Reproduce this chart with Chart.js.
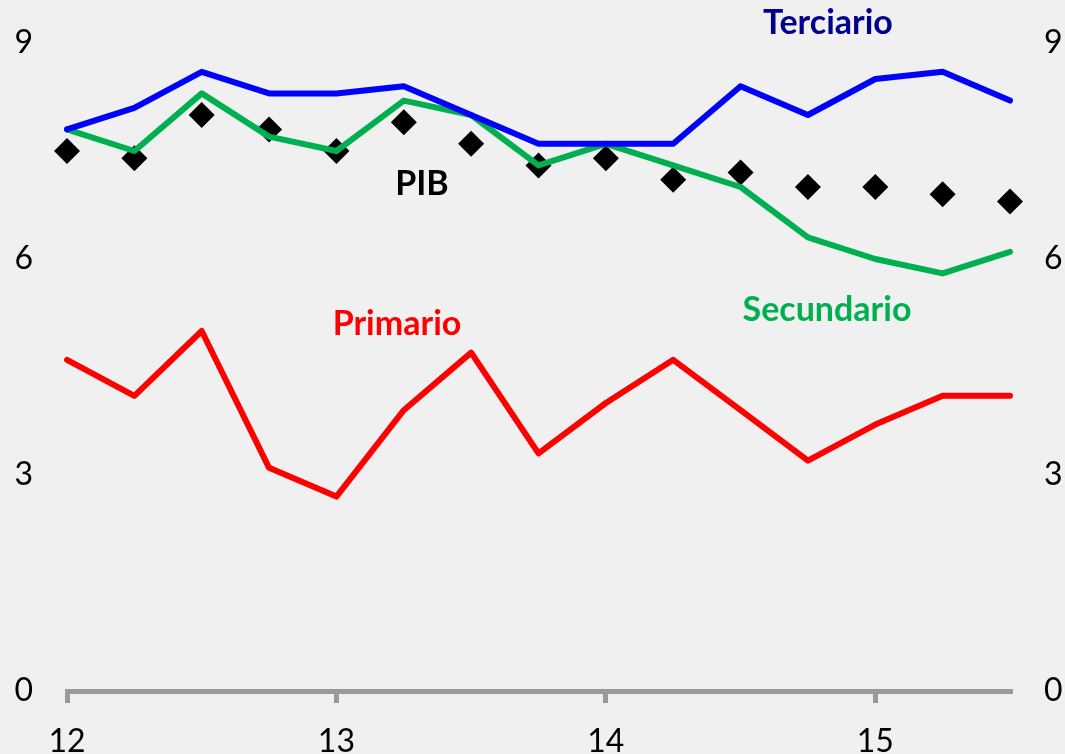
<!DOCTYPE html>
<html lang="es">
<head>
  <meta charset="UTF-8">
  <title>PIB por sectores</title>
  <script src="https://cdn.jsdelivr.net/npm/chart.js"></script>
  <style>
    html, body { margin: 0; padding: 0; background: #f0f0f0; overflow: hidden; }
    canvas { display: block; }
  </style>
</head>
<body>
  <canvas id="grafico" width="1065" height="754"></canvas>

  <script>
    // Datos (trimestres de 2012 a 2015.5)
    const trimestres = ['12', '', '', '', '13', '', '', '', '14', '', '', '', '15', '', ''];
    const terciario  = [7.8, 8.1, 8.6, 8.3, 8.3, 8.4, 8.0, 7.6, 7.6, 7.6, 8.4, 8.0, 8.5, 8.6, 8.2];
    const secundario = [7.8, 7.5, 8.3, 7.7, 7.5, 8.2, 8.0, 7.3, 7.6, 7.3, 7.0, 6.3, 6.0, 5.8, 6.1];
    const pib        = [7.5, 7.4, 8.0, 7.8, 7.5, 7.9, 7.6, 7.3, 7.4, 7.1, 7.2, 7.0, 7.0, 6.9, 6.8];
    const primario   = [4.6, 4.1, 5.0, 3.1, 2.7, 3.9, 4.7, 3.3, 4.0, 4.6, 3.9, 3.2, 3.7, 4.1, 4.1];
    const ticksY     = [0, 3, 6, 9];

    const fuente = 'Lato, "Open Sans", sans-serif';

    // etiquetas de las series escritas sobre el grafico
    const etiquetas = {
      id: 'etiquetas',
      afterDatasetsDraw(chart) {
        const ctx = chart.ctx;
        ctx.save();
        ctx.font = 'bold 34px ' + fuente;
        ctx.textAlign = 'center';
        ctx.textBaseline = 'alphabetic';
        [
          ['Terciario', 828, 34, '#000090'],
          ['PIB', 422, 195, '#000000'],
          ['Primario', 397, 335, '#ff0000'],
          ['Secundario', 827, 321, '#00b050']
        ].forEach(([t, x, y, c]) => {
          ctx.fillStyle = c;
          ctx.fillText(t, x, y);
        });
        ctx.restore();
      }
    };

    const linea = (label, data, color) => ({
      label, data,
      borderColor: color,
      backgroundColor: color,
      borderWidth: 6,
      pointRadius: 0,
      tension: 0,
      borderJoinStyle: 'round',
      borderCapStyle: 'round',
      yAxisID: 'y'
    });

    // eje vertical sin relleno extra arriba/abajo
    const ajusteY = ancho => s => {
      s.width = ancho;
      s.paddingTop = 0;
      s.paddingBottom = 0;
    };

    new Chart(document.getElementById('grafico'), {
      type: 'line',
      data: {
        labels: trimestres,
        datasets: [
          linea('Terciario', terciario, '#0000ff'),
          linea('Secundario', secundario, '#00b050'),
          {
            label: 'PIB', data: pib,
            showLine: false,
            pointStyle: 'rectRot',
            pointRadius: 13,
            pointBorderWidth: 0,
            pointBackgroundColor: '#000000',
            pointBorderColor: '#000000',
            yAxisID: 'y'
          },
          linea('Primario', primario, '#ff0000')
        ]
      },
      options: {
        responsive: false,
        animation: false,
        devicePixelRatio: 1,
        layout: { padding: { top: 43 } },
        plugins: { legend: { display: false }, tooltip: { enabled: false } },
        scales: {
          x: {
            offset: false,
            grid: {
              drawOnChartArea: false,
              drawTicks: true,
              tickLength: 12,
              lineWidth: 5,
              color: c => (c.index % 4 === 0 ? '#9a9a9a' : 'rgba(0,0,0,0)')
            },
            border: { display: true, color: '#9a9a9a', width: 5 },
            ticks: {
              autoSkip: false,
              maxRotation: 0,
              padding: 19,
              color: '#000',
              font: { family: fuente, size: 32 }
            },
            afterFit: s => { s.height = 63; }
          },
          y: {
            position: 'left',
            min: 0, max: 9,
            afterBuildTicks: s => { s.ticks = ticksY.map(v => ({ value: v })); },
            grid: { display: false, drawTicks: false },
            border: { display: false },
            ticks: { padding: 34, color: '#000', font: { family: fuente, size: 32 } },
            afterFit: ajusteY(67)
          },
          y2: {
            position: 'right',
            min: 0, max: 9,
            afterBuildTicks: s => { s.ticks = ticksY.map(v => ({ value: v })); },
            grid: { display: false, drawTicks: false },
            border: { display: false },
            ticks: { padding: 34, color: '#000', font: { family: fuente, size: 32 } },
            afterFit: ajusteY(55)
          }
        }
      },
      plugins: [etiquetas]
    });
  </script>
</body>
</html>
